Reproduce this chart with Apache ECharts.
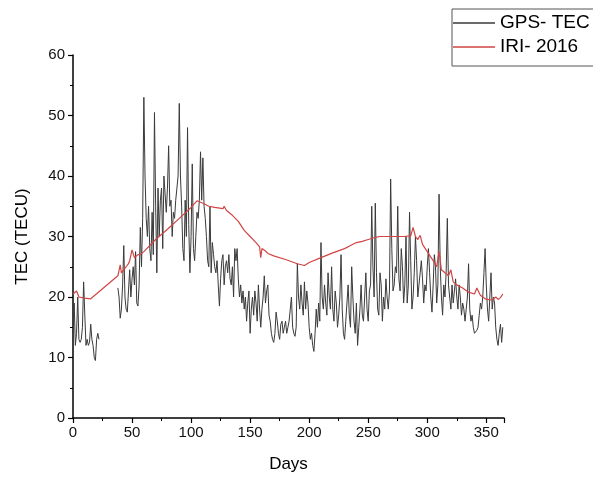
<!DOCTYPE html>
<html>
<head>
<meta charset="utf-8">
<script src="https://cdn.jsdelivr.net/npm/echarts@6/dist/echarts.min.js"></script>
<style>
  html, body { margin: 0; padding: 0; background: #fff; }
  #chart { width: 593px; height: 479px; }
</style>
</head>
<body>
<div id="chart"></div>
<script>
// daily GPS-TEC, day 0..364 (null = no data)
const gpsTec = [
  14, 19, 12, 14, 20, 13, 12.5, 13, 15, 22.5,
  17, 12, 13, 12, 12.5, 15.5, 13, 12, 10, 9.5,
  13, 14, 13, null, null, null, null, null, null, null,
  null, null, null, null, null, null, null, null, 21.5, 20,
  16.5, 18, 22, 28.5, 20, 18, 17.5, 21, 24.5, 20,
  23, 25, 22, 27.5, 19, 18.5, 22, 31.5, 25, 33,
  53, 40, 33, 30, 35, 28, 26, 34, 27, 50.5,
  35, 24, 38, 30, 36, 38, 28, 40, 40, 34,
  38, 45, 35, 36, 30, 34, 33, 36, 38, 40,
  52, 40, 35, 28, 26, 36, 30, 48, 32, 24,
  30, 42, 28, 26, 30, 34, 33, 36, 44, 36,
  43, 35, 33, 30, 26, 25, 35, 24, 29, 27,
  25, 24, 26, 22, 18.5, 23, 26, 27, 22, 25,
  26, 24, 27, 23, 22, 25, 20, 28, 26, 28,
  23, 20, 22, 19, 21, 18, 20, 16, 19, 21,
  14, 18, 20, 17, 21, 19, 16, 22, 18, 15,
  18, 20, 23.5, 19, 21, 22, 17, 16, 14, 13,
  12.5, 14, 17.5, 16, 14, 13, 15.5, 16, 14, 15,
  16, 14, 15, 16, 18, 20, 15, 14, 13.5, 15,
  25.5, 20, 18, 22, 19, 17, 22.5, 18, 21, 19,
  15, 13, 14, 12, 11, 14, 18, 15, 19, 16,
  29, 20, 18, 22, 19, 17, 24, 20, 18, 25,
  18, 16, 21, 19, 15, 17, 20, 27, 18, 14,
  13, 16, 19, 22, 17, 15, 25, 20, 16, 14,
  19, 12, 15, 18, 22, 17, 16, 20, 24, 18,
  16, 21, 22, 35, 25, 20, 35.5, 24, 18, 17,
  24, 22, 16, 20, 18, 23, 20, 18, 21, 39.5,
  28, 21, 22, 25, 24, 35, 23, 21, 28, 25,
  19, 22, 30, 19, 22, 34, 26, 18, 20, 24,
  30, 26, 20, 22, 24, 26, 23, 19, 22, 21,
  25, 28, 24, 20, 17.5, 22, 27, 25, 19, 22,
  37, 25, 20, 17, 22, 20, 24, 33, 22, 20,
  18, 22, 19, 21, 23, 20, 18, 22, 20, 17,
  19, 18, 16, 18, 20, 25.5, 18, 16, 17, 15,
  14, 14, 14.5, 15, 17, 19, 18, 20, 24, 28,
  22, 18, 16, 20, 24, 18, 20, 19, 15, 13,
  12, 14, 15.5, 12.5, 15
];

// IRI-2016 model, read at these days
const iriDays = [
  0, 3, 5, 10, 15, 38, 40, 41, 43, 45, 47, 48, 50, 52, 55, 57, 60,
  70, 80, 90, 100, 105, 110, 115, 120, 127, 128, 130, 135, 140, 145,
  150, 155, 158, 159, 160, 163, 165, 170, 180, 190, 196, 200, 210, 220,
  230, 235, 240, 245, 250, 255, 260, 270, 280, 286, 288, 290, 292,
  294, 296, 300, 305, 308, 310, 312, 315, 318, 320, 322, 325, 330,
  335, 340, 342, 345, 350, 355, 358, 360, 362, 364
];
const iriTec = [
  20.5, 21, 20, 19.8, 19.7, 23.5, 25.3, 24, 24.5, 25, 25.5, 26, 27.8, 26.5, 27, 27, 27.5,
  29.5, 31.2, 33, 34.8, 35.9, 35.5, 35, 34.8, 34.6, 35, 34.3, 33.5, 32.5, 31,
  30, 29, 28.3, 26.5, 28, 27.6, 27.2, 26.8, 26.2, 25.5, 25.2, 25.7, 26.5, 27.3,
  28, 28.5, 29, 29.2, 29.5, 29.8, 30, 30, 30, 30.1, 31.5, 30, 29.5,
  30.2, 28.7, 27.5, 26, 25, 27.5, 24.5, 24, 23.5, 24.5, 22.5, 22, 21.5,
  20.8, 20.5, 21.5, 20.3, 19.6, 19.5, 20, 19.6, 19.9, 20.5
];

const xTicks = { min: 0, max: 365, interval: 50 };
const yTicks = { min: 0, max: 60, interval: 10 };

const gpsData = gpsTec.map((v, i) => [i, v]);
const iriData = iriDays.map((d, i) => [d, iriTec[i]]);

const chart = echarts.init(document.getElementById('chart'));
const font = 'Liberation Sans, Arial, sans-serif';

const axisCommon = {
  axisLine: { show: true, lineStyle: { color: '#000', width: 1.5 } },
  axisTick: { show: true, length: 5, lineStyle: { color: '#000', width: 1.2 } },
  minorTick: { show: true, splitNumber: 2, length: 3, lineStyle: { color: '#000', width: 1 } },
  splitLine: { show: false },
  axisLabel: { color: '#111', fontSize: 15, fontFamily: font },
  nameTextStyle: { color: '#000', fontSize: 17, fontFamily: font }
};

chart.setOption({
  animation: false,
  backgroundColor: '#fff',
  grid: { left: 73, right: 89, top: 55, bottom: 61 },
  legend: {
    left: 452,
    top: 9,
    orient: 'vertical',
    icon: 'rect',
    itemWidth: 42,
    itemHeight: 1.5,
    itemGap: 4,
    padding: [4, 60, 9, 1],
    borderColor: '#555',
    borderWidth: 1,
    textStyle: { color: '#000', fontSize: 19, lineHeight: 20, fontFamily: font },
    data: ['GPS- TEC', 'IRI- 2016']
  },
  xAxis: Object.assign({}, axisCommon, {
    type: 'value',
    min: xTicks.min,
    max: xTicks.max,
    interval: xTicks.interval,
    name: 'Days',
    nameLocation: 'middle',
    nameGap: 38,
    axisLabel: Object.assign({}, axisCommon.axisLabel, { margin: 7, showMaxLabel: false })
  }),
  yAxis: Object.assign({}, axisCommon, {
    type: 'value',
    min: yTicks.min,
    max: yTicks.max,
    interval: yTicks.interval,
    name: 'TEC (TECU)',
    nameLocation: 'middle',
    nameGap: 42,
    axisLabel: Object.assign({}, axisCommon.axisLabel, { margin: 8 })
  }),
  series: [
    {
      name: 'GPS- TEC',
      type: 'line',
      data: gpsData,
      symbol: 'none',
      connectNulls: false,
      lineStyle: { color: '#3a3a3a', width: 1 },
      itemStyle: { color: '#3a3a3a' }
    },
    {
      name: 'IRI- 2016',
      type: 'line',
      data: iriData,
      symbol: 'none',
      lineStyle: { color: '#d14545', width: 1.2 },
      itemStyle: { color: '#d14545' }
    }
  ]
});
</script>
</body>
</html>
